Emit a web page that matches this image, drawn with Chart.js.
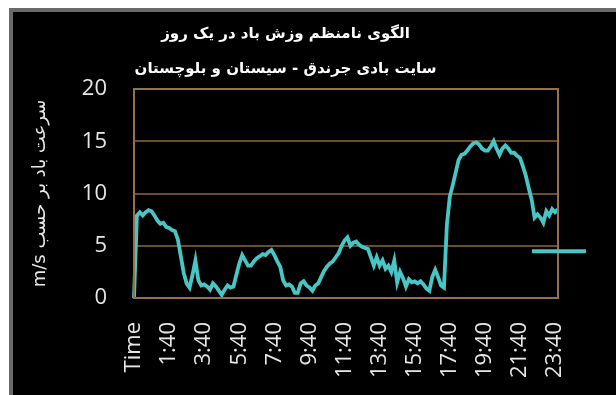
<!DOCTYPE html>
<html>
<head>
<meta charset="utf-8">
<script src="https://cdn.jsdelivr.net/npm/chart.js@4.4.1/dist/chart.umd.min.js"></script>
<style>
body { margin: 0; background: #fff; }
#frame {
	position: absolute; left: 9px; top: 8px;
	width: 603px; height: 383px;
	border-left: 4px solid #6a6a6a; border-top: 4px solid #6a6a6a;
	background: #000;
}
</style>
</head>
<body>
<div id="frame"><canvas id="windChart" width="603" height="383"></canvas></div>
<script>
// wind speed (m/s), one reading every 10 minutes; first slot is the header row
var windSpeed = [
	0, 7.9, 8.2, 7.9, 8.2, 8.4, 8.3, 7.9, 7.4, 7.1, 7.2, 6.8,
	6.7, 6.5, 6.4, 5.6, 4.0, 2.4, 1.4, 1.0, 2.2, 3.6, 1.7, 1.2,
	1.3, 1.1, 0.8, 1.4, 1.1, 0.7, 0.3, 0.8, 1.2, 1.0, 1.1, 2.2,
	3.3, 4.1, 3.6, 3.1, 3.1, 3.5, 3.8, 4.0, 4.2, 4.1, 4.4, 4.6,
	4.1, 3.5, 3.0, 1.7, 1.2, 1.3, 1.1, 0.5, 0.5, 1.4, 1.6, 1.2,
	1.0, 0.7, 1.2, 1.4, 2.0, 2.6, 3.0, 3.3, 3.5, 3.9, 4.3, 5.0,
	5.5, 5.8, 5.0, 5.3, 5.4, 5.1, 4.9, 4.8, 4.7, 3.9, 3.1, 3.9,
	3.1, 3.6, 2.8, 3.1, 2.5, 3.6, 1.5, 2.5, 1.9, 1.1, 1.8, 1.5,
	1.6, 1.4, 1.6, 1.3, 0.9, 0.7, 2.0, 2.7, 2.0, 1.2, 1.0, 7.0,
	9.7, 10.8, 12.0, 13.2, 13.7, 13.8, 14.1, 14.5, 14.8, 14.9, 14.7, 14.3,
	14.1, 14.1, 14.5, 15.0, 14.3, 13.7, 14.3, 14.6, 14.3, 13.9, 13.9, 13.6,
	13.4, 12.6, 11.7, 10.5, 9.4, 7.7, 8.0, 7.7, 7.2, 8.3, 7.9, 8.5,
	8.2, 8.5
];
var yTicks = [0, 5, 10, 15, 20];
var labelEvery = 12;

var titleLines = ['الگوی نامنظم وزش باد در یک روز', 'سایت بادی جرندق - سیستان و بلوچستان'];
var yTitle = 'سرعت باد بر حسب m/s';

var timeLabels = ['Time'];
for (var k = 1; k < windSpeed.length; k++) {
	var mins = ((k - 2) * 10 + 1440) % 1440;
	timeLabels.push(Math.floor(mins / 60) + ':' + ('0' + mins % 60).slice(-2));
}

var lineColor = 'rgb(72, 198, 198)';

// plot frame plus the lone legend sample on the right edge
var framePlugin = {
	id: 'frame',
	afterDatasetsDraw: function(chart) {
		var a = chart.chartArea, ctx = chart.ctx;
		ctx.save();
		ctx.strokeStyle = 'rgb(150, 112, 72)';
		ctx.lineWidth = 2;
		ctx.strokeRect(a.left, a.top, a.right - a.left, a.bottom - a.top);
		var y = a.top + (a.bottom - a.top) * 0.776;
		ctx.strokeStyle = lineColor;
		ctx.lineWidth = 4;
		ctx.beginPath();
		ctx.moveTo(a.right - 26, y);
		ctx.lineTo(a.right + 28, y);
		ctx.stroke();
		ctx.restore();
	}
};

var windChart = new Chart('windChart', {
	type: 'line',
	data: {
		labels: timeLabels,
		datasets: [{
			label: '',
			data: windSpeed,
			borderColor: lineColor,
			borderWidth: 3.8,
			pointRadius: 0,
			tension: 0,
			fill: false
		}]
	},
	options: {
		responsive: false,
		animation: false,
		layout: { padding: { left: 0, right: 58, bottom: 0 } },
		plugins: {
			legend: { display: false },
			tooltip: { enabled: false },
			title: {
				display: true,
				text: titleLines,
				color: '#fff',
				font: { family: 'DejaVu Sans', size: 15, weight: 'bold', lineHeight: 2.3 },
				padding: { top: 5, bottom: 3 }
			}
		},
		scales: {
			x: {
				offset: false,
				afterFit: function(scale) { scale.height = 97; },
				grid: { display: false, drawTicks: false },
				border: { display: true, color: 'rgb(170, 125, 80)', width: 2 },
				ticks: {
					autoSkip: false,
					minRotation: 90,
					maxRotation: 90,
					padding: 24,
					color: '#e6e6e6',
					font: { family: 'Open Sans', size: 22 },
					callback: function(val, idx) {
						return idx % labelEvery === 0 ? this.getLabelForValue(val) : '';
					}
				}
			},
			y: {
				min: yTicks[0],
				max: yTicks[yTicks.length - 1],
				afterFit: function(scale) { scale.width = 121; },
				afterBuildTicks: function(scale) {
					scale.ticks = yTicks.map(function(v) { return { value: v }; });
				},
				grid: { color: 'rgb(110, 76, 42)', lineWidth: 2, drawTicks: false },
				border: { display: false },
				ticks: {
					padding: 27,
					color: '#e6e6e6',
					font: { family: 'Open Sans', size: 22 }
				},
				title: {
					display: true,
					text: '\u202B' + yTitle + '\u202C',
					color: '#e6e6e6',
					font: { family: 'DejaVu Sans', size: 18 },
					padding: { top: 17, bottom: 0 }
				}
			}
		}
	},
	plugins: [framePlugin]
});
</script>
</body>
</html>
